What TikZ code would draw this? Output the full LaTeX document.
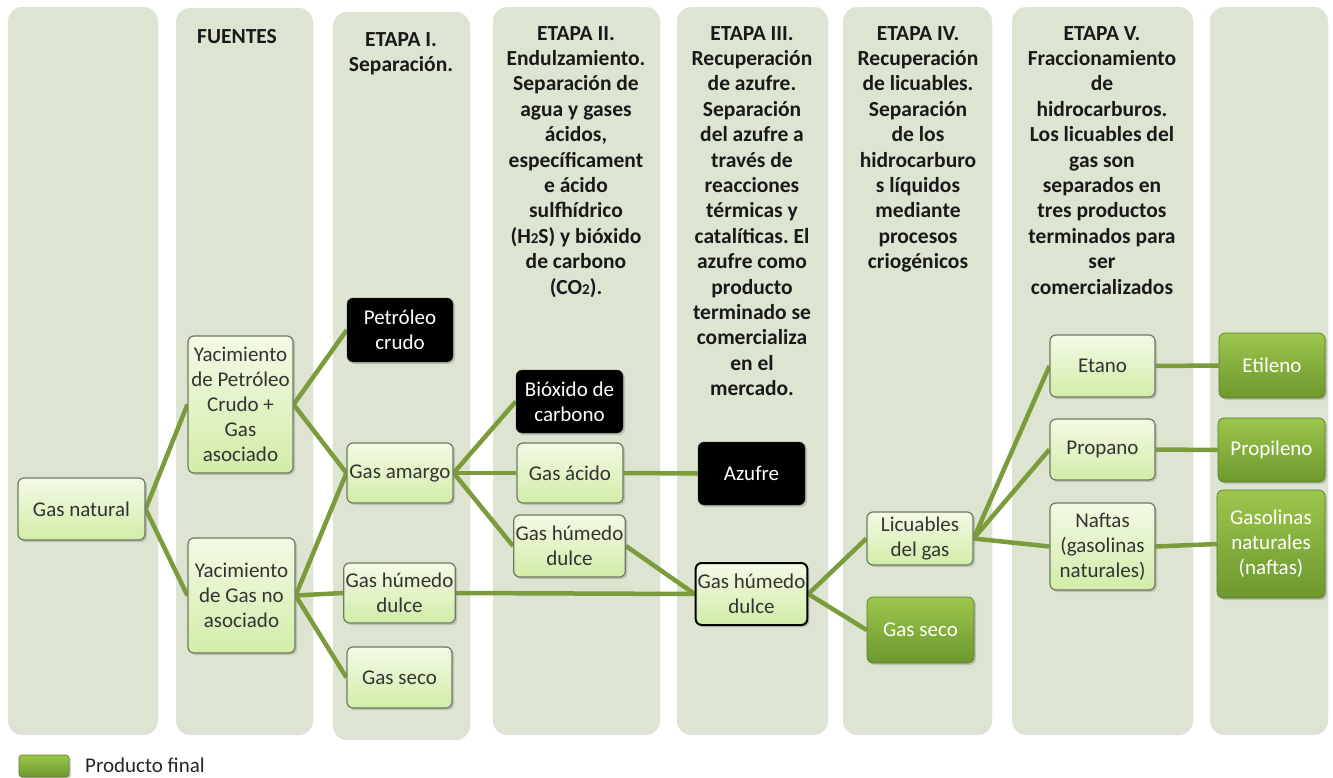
\documentclass[tikz,border=0pt]{standalone}
\usepackage{fontspec}
\setmainfont{Carlito}
\usetikzlibrary{shadows,backgrounds}
\frenchspacing
\definecolor{colbg}{RGB}{221,229,210}
\definecolor{linkc}{RGB}{124,156,60}
\definecolor{litetop}{RGB}{243,250,230}
\definecolor{litebot}{RGB}{210,236,168}
\definecolor{greentop}{RGB}{157,198,76}
\definecolor{greenbot}{RGB}{108,152,46}
\definecolor{liteborder}{RGB}{110,122,95}
\definecolor{txt}{RGB}{25,25,25}
\newcommand\smtwo{{\fontsize{15}{25.4}\selectfont 2}}
\pgfdeclarelayer{cols}
\pgfsetlayers{cols,background,main}
\tikzset{
  colbox/.style={fill=colbg, rounded corners=14pt, drop shadow={shadow xshift=0pt, shadow yshift=-2pt, opacity=0.25, fill=gray}},
  box/.style={rounded corners=6pt, align=center, inner sep=2pt, font=\fontsize{21}{25}\selectfont, drop shadow={shadow xshift=2pt, shadow yshift=-2pt, opacity=0.35}},
  lite/.style={box, draw=liteborder, line width=1.2pt, top color=litetop, bottom color=litebot, text=black!80},
  darkbox/.style={box, draw=black!80, fill=black, text=white},
  fin/.style={box, draw=greenbot!80!black, line width=0.6pt, top color=greentop, bottom color=greenbot, text=white},
  head/.style={anchor=north, align=center, inner sep=0pt, font=\bfseries\fontsize{21.5}{25.4}\selectfont, text=txt},
  conn/.style={draw=linkc, line width=4.5pt},
}
\begin{document}
\begin{tikzpicture}[x=1pt,y=-1pt]
\useasboundingbox (0,0) rectangle (1333,778);
\begin{pgfonlayer}{cols}
\path[colbox] (8,7) rectangle (158,733);
\path[colbox] (176,8) rectangle (313,733);
\path[colbox] (333,12) rectangle (470,738);
\path[colbox] (493,7) rectangle (660,733);
\path[colbox] (677,7) rectangle (828,733);
\path[colbox] (843,7) rectangle (992,733);
\path[colbox] (1012,7) rectangle (1193,733);
\path[colbox] (1210,7) rectangle (1328,733);
\end{pgfonlayer}

% headers
\node[head] (h2) at (237,29) {FUENTES};
\node[head] (h3) at (401,32) {ETAPA I.\\Separación.};
\node[head] (h4) at (576,26) {ETAPA II.\\Endulzamiento.\\Separación de\\agua y gases\\ácidos,\\específicament\\e ácido\\sulfhídrico\\(H\smtwo S) y bióxido\\de carbono\\(CO\smtwo).};
\node[head] (h5) at (752,26) {ETAPA III.\\Recuperación\\de azufre.\\Separación\\del azufre a\\través de\\reacciones\\térmicas y\\catalíticas. El\\azufre como\\producto\\terminado se\\comercializa\\en el\\mercado.};
\node[head] (h6) at (918,26) {ETAPA IV.\\Recuperación\\de licuables.\\Separación\\de los\\hidrocarburo\\s líquidos\\mediante\\procesos\\criogénicos};
\node[head] (h7) at (1102,26) {ETAPA V.\\Fraccionamiento\\de\\hidrocarburos.\\Los licuables del\\gas son\\separados en\\tres productos\\terminados para\\ser\\comercializados};

% nodes
\node[lite, minimum width=127, minimum height=62] (gn) at (81.5,509) {Gas natural};
\node[lite, minimum width=105, minimum height=137] (yp) at (240.5,404.5) {Yacimiento\\de Petróleo\\Crudo +\\Gas\\asociado};
\node[lite, minimum width=107, minimum height=115] (yg) at (241.5,595.5) {Yacimiento\\de Gas no\\asociado};
\node[darkbox, minimum width=106, minimum height=64] (pc) at (400,330) {Petróleo\\crudo};
\node[lite, minimum width=106, minimum height=60] (ga) at (400,473) {Gas amargo};
\node[lite, minimum width=105, minimum height=60] (ghd3) at (399.5,593) {Gas húmedo\\dulce};
\node[lite, minimum width=105, minimum height=61] (gs3) at (399.5,677.5) {Gas seco};
\node[darkbox, minimum width=107, minimum height=63] (bc) at (569.5,401.5) {Bióxido de\\carbono};
\node[lite, minimum width=106, minimum height=60] (gac) at (570,473) {Gas ácido};
\node[lite, minimum width=107, minimum height=62] (ghd4) at (569.5,546) {Gas húmedo\\dulce};
\node[darkbox, minimum width=107, minimum height=63] (az) at (751.5,473.5) {Azufre};
\node[lite, draw=black, line width=2pt, minimum width=107, minimum height=62] (ghd5) at (751.5,594) {Gas húmedo\\dulce};
\node[lite, minimum width=106, minimum height=53] (lg) at (920,538.5) {Licuables\\del gas};
\node[fin, minimum width=107, minimum height=66] (gsf) at (920.5,630) {Gas seco};
\node[lite, minimum width=105, minimum height=62] (et) at (1102.5,366) {Etano};
\node[lite, minimum width=105, minimum height=61] (pr) at (1102.5,449.5) {Propano};
\node[lite, minimum width=105, minimum height=87] (na) at (1102.5,546.5) {Naftas\\(gasolinas\\naturales)};
\node[fin, minimum width=106, minimum height=65] (eti) at (1272,365.5) {Etileno};
\node[fin, minimum width=107, minimum height=64] (pro) at (1271.5,450) {Propileno};
\node[fin, minimum width=108, minimum height=108] (gsn) at (1271,544) {Gasolinas\\naturales\\(naftas)};

% legend
\node[fin, minimum width=50, minimum height=22, rounded corners=3pt, inner sep=0pt] (leg) at (44,766) {};
\node[anchor=west, inner sep=0pt, font=\fontsize{21}{25}\selectfont, text=black!85] (legt) at (85,765) {Producto final};

% connectors
\begin{pgfonlayer}{background}
\draw[conn] (gn.east) -- (yp.west);
\draw[conn] (gn.east) -- (yg.west);
\draw[conn] (yp.east) -- (pc.west);
\draw[conn] (yp.east) -- (ga.west);
\draw[conn] (yg.east) -- (ga.west);
\draw[conn] (yg.east) -- (ghd3.west);
\draw[conn] (yg.east) -- (gs3.west);
\draw[conn] (ga.east) -- (bc.west);
\draw[conn] (ga.east) -- (gac.west);
\draw[conn] (ga.east) -- (ghd4.west);
\draw[conn] (gac.east) -- (az.west);
\draw[conn] (ghd3.east) -- (ghd5.west);
\draw[conn] (ghd4.east) -- (ghd5.west);
\draw[conn] (ghd5.east) -- (lg.west);
\draw[conn] (ghd5.east) -- (gsf.west);
\draw[conn] (lg.east) -- (et.west);
\draw[conn] (lg.east) -- (pr.west);
\draw[conn] (lg.east) -- (na.west);
\draw[conn] (et.east) -- (eti.west);
\draw[conn] (pr.east) -- (pro.west);
\draw[conn] (na.east) -- (gsn.west);
\end{pgfonlayer}
\end{tikzpicture}
\end{document}
